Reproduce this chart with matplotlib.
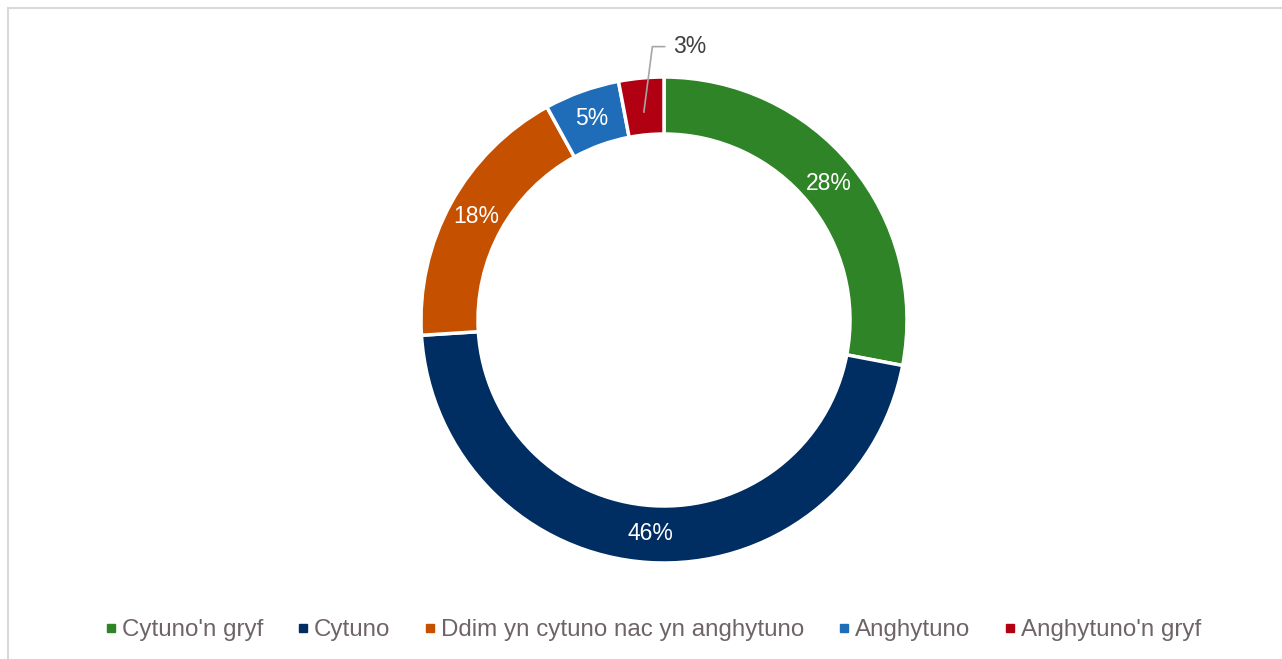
import matplotlib.pyplot as plt
from matplotlib.lines import Line2D
import numpy as np

plt.rcParams['font.family'] = ['Liberation Sans', 'DejaVu Sans']

categories = ["Cytuno'n gryf", "Cytuno", "Ddim yn cytuno nac yn anghytuno", "Anghytuno", "Anghytuno'n gryf"]
values = [28, 46, 18, 5, 3]
colors = ['#2E8426', '#002D62', '#C55000', '#1F6DB8', '#B00012']

W, H = 1282, 659
fig = plt.figure(figsize=(W / 100, H / 100), dpi=100)

# light frame (top and left visible)
fig.add_artist(Line2D([8 / W, 8 / W], [0, 1 - 8 / H], color='#D9D9D9', lw=1.5, transform=fig.transFigure))
fig.add_artist(Line2D([8 / W, 1], [1 - 8 / H, 1 - 8 / H], color='#D9D9D9', lw=1.5, transform=fig.transFigure))

cx, cy, r = 664, 320, 243
ax = fig.add_axes([(cx - r) / W, (H - cy - r) / H, 2 * r / W, 2 * r / H])
wedges, _ = ax.pie(values, colors=colors, startangle=90, counterclock=False,
                   radius=1, wedgeprops=dict(width=57 / 243, edgecolor='white', linewidth=2.5))
ax.set_xlim(-1, 1)
ax.set_ylim(-1, 1)
ax.set_aspect('equal')
ax.axis('off')

lab_r = 0.88
for w, v in zip(wedges, values):
    ang = np.deg2rad((w.theta1 + w.theta2) / 2)
    x, y = lab_r * np.cos(ang), lab_r * np.sin(ang)
    if v < 4:
        tx, ty = x + 0.035, 1.125
        ax.plot([x, tx, tx + 0.05], [y - 0.02, ty, ty], color='#A6A6A6', lw=1.2, clip_on=False)
        ax.text(tx + 0.085, ty, f"{v}%", ha='left', va='center', fontsize=16.5, color='#404040')
    else:
        ax.text(x, y, f"{v}%", ha='center', va='center', fontsize=16.5, color='white')

handles = [Line2D([], [], marker='s', ls='', color=c, markersize=6) for c in colors]
fig.legend(handles, categories, loc='center', bbox_to_anchor=(0.5 + 12 / W, 1 - 630 / H), ncol=5,
           frameon=False, fontsize=17.4, labelcolor='#6E6468', handletextpad=0.2,
           columnspacing=1.4, handlelength=0.5)

fig.savefig('out.png', dpi=100)
